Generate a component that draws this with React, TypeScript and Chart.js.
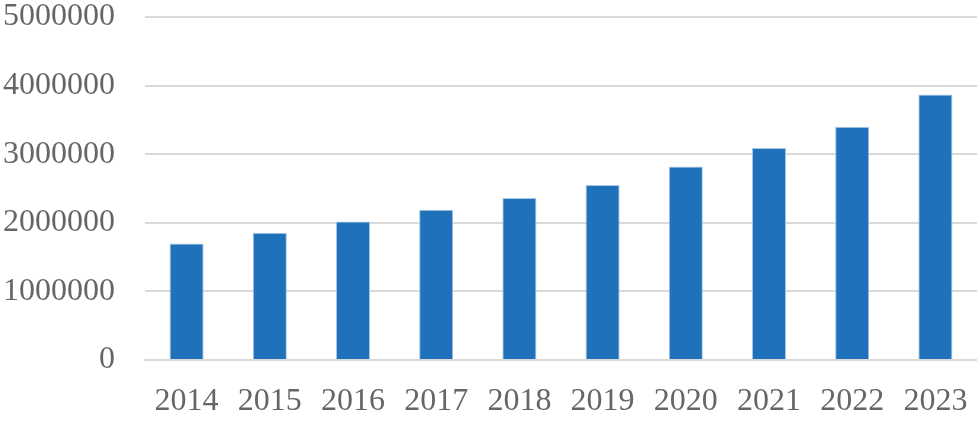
import React, { useEffect, useRef } from "react";
import { Chart, registerables } from "chart.js";

Chart.register(...registerables);

const years = ["2014", "2015", "2016", "2017", "2018", "2019", "2020", "2021", "2022", "2023"];
const values = [1700000, 1855000, 2020000, 2190000, 2360000, 2550000, 2820000, 3090000, 3400000, 3870000];

export default function App() {
  const ref = useRef<HTMLCanvasElement>(null);
  useEffect(() => {
    document.body.style.margin = "0";
    const ctx = ref.current!;
    const font = { family: "'Liberation Serif', 'Times New Roman', serif", size: 32 };
    const chart = new Chart(ctx, {
      type: "bar",
      data: {
        labels: years,
        datasets: [
          {
            data: values,
            backgroundColor: "#1F72BA",
            borderColor: "#A9C8E6",
            borderWidth: { top: 1, left: 1, right: 1, bottom: 0 } as any,
            categoryPercentage: 1,
            barPercentage: 0.41,
          },
        ],
      },
      options: {
        animation: false,
        responsive: false,
        maintainAspectRatio: false,
        layout: { padding: { top: 17, right: 0, left: 0, bottom: 0 } },
        plugins: { legend: { display: false }, tooltip: { enabled: false } },
        scales: {
          x: {
            grid: { display: false, drawTicks: false },
            border: { display: true, color: "#D9D9D9", width: 2 },
            ticks: { font, color: "#666666", padding: 22, maxRotation: 0, autoSkip: false },
            afterFit: (s: any) => {
              s.height = 61;
              s.paddingLeft = 0;
              s.paddingRight = 0;
            },
          },
          y: {
            min: 0,
            max: 5000000,
            grid: { color: "#D9D9D9", lineWidth: 2, drawTicks: false },
            border: { display: false },
            ticks: {
              font,
              color: "#666666",
              padding: 30,
              stepSize: 1000000,
              callback: (v: any) => String(v),
            },
            afterFit: (s: any) => {
              s.width = 145;
              s.paddingTop = 0;
              s.paddingBottom = 0;
            },
          },
        },
      },
    });
    return () => chart.destroy();
  }, []);
  return (
    <div style={{ position: "absolute", left: 0, top: 0, width: 977, height: 421 }}>
      <canvas ref={ref} width={977} height={421} style={{ width: 977, height: 421 }} />
    </div>
  );
}
